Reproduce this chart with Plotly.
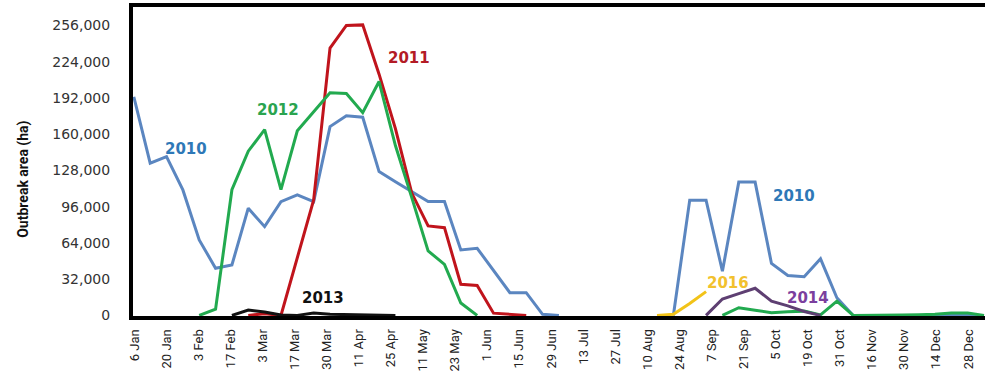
import plotly.graph_objects as go
import numpy as np

# Weekly outbreak area (ha); week index 0 = 6 Jan, 53 weeks per year
weeks = list(range(53))

tick_labels = ["6 Jan", "20 Jan", "3 Feb", "17 Feb", "3 Mar", "17 Mar", "30 Mar",
               "11 Apr", "25 Apr", "11 May", "23 May", "1 Jun", "15 Jun", "29 Jun",
               "13 Jul", "27 Jul", "10 Aug", "24 Aug", "7 Sep", "21 Sep", "5 Oct",
               "19 Oct", "31 Oct", "16 Nov", "30 Nov", "14 Dec", "28 Dec"]

N = None
y2010 = [193000, 134400, 140200, 110800, 66700, 41700, 44600, 94700, 78400, 100500,
         106400, 100500, 166700, 176200, 175000, 127000, 118000, 109300, 100500, 100500,
         57800, 59300, 40000, 20100, 20100, 1000, 0, N, N, N,
         N, N, N, 0, 101800, 101800, 39000, 117700, 117700, 45900,
         35300, 34200, 50000, 15600, 0, 0, 0, 0, 0, 0,
         0, 0, 0]
y2011 = [N, N, N, N, N, N, N, 0, 1500, 0,
         50000, 102000, 236000, 256000, 256500, 213000, 165000, 108000, 79000, 77500,
         27500, 26500, 2000, 1000, 0, N, N, N, N, N,
         N, N, N, N, N, N, N, N, N, N,
         N, N, N, N, N, N, N, N, N, N,
         N, N, N]
y2012 = [N, N, N, N, 0, 5500, 111000, 145000, 164000, 111000,
         163000, 180000, 196500, 196000, 179000, 206500, 150000, 104000, 57000, 45000,
         11000, 0, N, N, N, N, N, N, N, N,
         N, N, N, N, N, N, 0, 6800, 4600, 2400,
         3200, 3800, 500, 12600, 0, 300, 300, 300, 500, 1000,
         2200, 2200, 0]
y2013 = [N, N, N, N, N, N, 0, 4800, 3000, 300,
         0, 2200, 1000, 700, 700, 300, 0]
y2014 = [N] * 35 + [0, 14500, 19300, 24000, 12600, 8500, 3500, 0]
y2016 = [N] * 32 + [0, 1000, 10500, 21000]

series = [
    ("2010", y2010, "#5b86c0"),
    ("2011", y2011, "#c0141c"),
    ("2012", y2012, "#22aa4f"),
    ("2013", y2013, "#111111"),
    ("2014", y2014, "#5e3f72"),
    ("2016", y2016, "#f2c318"),
]

fig = go.Figure()
for name, vals, color in series:
    fig.add_trace(go.Scatter(
        x=weeks[:len(vals)], y=vals, mode="lines", name=name,
        line=dict(color=color, width=3), connectgaps=False,
        hoverinfo="x+y+name",
    ))

# Year labels placed beside their curves
labels = [
    ("2010", 3.19, 147000, "#2e78b7"),
    ("2012", 8.82, 181000, "#2aa44f"),
    ("2011", 16.80, 227000, "#b31b25"),
    ("2013", 11.57, 15200, "#111111"),
    ("2010", 40.38, 105500, "#2e78b7"),
    ("2016", 36.34, 28200, "#f2c12e"),
    ("2014", 41.24, 15500, "#7b3f9e"),
]
for text, x, y, color in labels:
    fig.add_annotation(x=x, y=y, text=f"<b>{text}</b>", showarrow=False,
                       font=dict(family="DejaVu Sans", size=15, color=color),
                       xanchor="center", yanchor="middle")

fig.add_annotation(xref="paper", yref="paper", x=-0.1295, y=0.443,
                   text="<b>Outbreak area (ha)</b>", textangle=-90, showarrow=False,
                   font=dict(family="Roboto", size=14, color="#111111"),
                   xanchor="center", yanchor="middle")

tick_pos = np.linspace(0.03, 51.04, len(tick_labels))

fig.update_layout(
    width=985, height=372,
    margin=dict(l=133, r=0, t=7, b=56, autoexpand=False),
    paper_bgcolor="white", plot_bgcolor="white",
    showlegend=False,
    xaxis=dict(
        range=[-0.05, 52.06], tickmode="array", tickvals=tick_pos, ticktext=tick_labels,
        tickangle=-90, showgrid=False, zeroline=False, automargin=False,
        showline=True, linecolor="black", linewidth=4, mirror=True,
        ticks="", ticklabelstandoff=4,
        tickfont=dict(family="Roboto", size=13, color="#222222"),
    ),
    yaxis=dict(
        range=[-500, 272300], tickmode="array",
        tickvals=list(range(0, 256001, 32000)),
        tickformat=",d", showgrid=False, zeroline=False, automargin=False,
        showline=True, linecolor="black", linewidth=4,
        ticks="", ticklabelstandoff=16,
        tickfont=dict(family="DejaVu Sans", size=14, color="#333333"),
    ),
)

fig.write_html("out.html")
